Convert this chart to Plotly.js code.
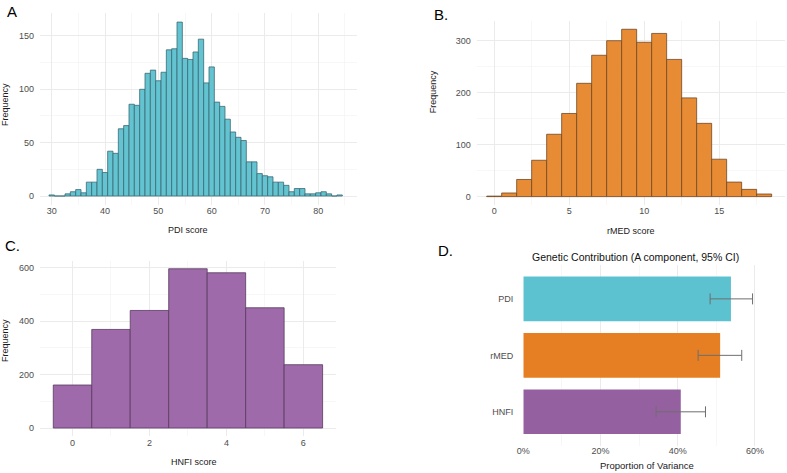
<!DOCTYPE html>
<html>
<head>
<meta charset="utf-8">
<script src="https://cdn.plot.ly/plotly-3.0.1.min.js"></script>
<style>
  html, body { margin: 0; padding: 0; background: #ffffff; }
  #chart { width: 787px; height: 473px; }
</style>
</head>
<body>
<div id="chart"></div>
<script>
// Panel A: PDI score distribution (bin centres and counts)
const pdiScore = [30, 31, 32, 33, 34, 35, 36, 37, 38, 39, 40, 41, 42, 43, 44, 45, 46, 47, 48, 49,
                  50, 51, 52, 53, 54, 55, 56, 57, 58, 59, 60, 61, 62, 63, 64, 65, 66, 67, 68, 69,
                  70, 71, 72, 73, 74, 75, 76, 77, 78, 79, 80, 81, 82, 83, 84];
const pdiCount = [1, 0, 0, 2, 4, 6, 3, 13, 13, 25, 22, 42, 40, 63, 66, 86, 85, 100, 115, 118,
                  108, 116, 137, 138, 163, 129, 128, 135, 147, 106, 121, 88, 84, 72, 60, 55, 52, 32, 32, 21,
                  19, 18, 13, 13, 10, 4, 7, 7, 2, 2, 3, 4, 2, 0, 1];

// Panel B: rMED score distribution
const rmedScore = [0, 1, 2, 3, 4, 5, 6, 7, 8, 9, 10, 11, 12, 13, 14, 15, 16, 17, 18];
const rmedCount = [1, 7, 33, 70, 120, 160, 218, 272, 300, 322, 297, 314, 264, 190, 141, 72, 28, 14, 5];

// Panel C: HNFI score distribution
const hnfiScore = [0, 1, 2, 3, 4, 5, 6];
const hnfiCount = [161, 369, 440, 596, 581, 450, 237];

// Panel D: additive genetic component (A) with 95% CI, in percent
const measures  = ['PDI', 'rMED', 'HNFI'];
const aEstimate = [53.8, 51.0, 40.8];
const aLower    = [48.4, 45.3, 34.4];
const aUpper    = [59.4, 56.6, 47.2];
const measureColors = ['#5cc2d0', '#e67e24', '#9560a0'];

const W = 787, H = 473;
const FONT = '"Liberation Sans Narrow", "Liberation Sans", Arial, sans-serif';
const fx = px => px / W;
const fy = px => 1 - px / H;

const GRID = '#ebebeb';
const MINOR = { showgrid: true, gridcolor: '#f1f1f1', gridwidth: 0.6, ticks: '' };

function axis(extra) {
  return Object.assign({
    showgrid: true, gridcolor: GRID, gridwidth: 1,
    zeroline: false, showline: false, ticks: '',
    tickfont: { family: FONT, size: 9, color: '#4d4d4d' },
    fixedrange: true
  }, extra);
}

const traces = [
  {
    type: 'bar', x: pdiScore, y: pdiCount, width: 1,
    marker: { color: '#63c3d1', line: { color: '#3b6a73', width: 0.8 } },
    xaxis: 'x', yaxis: 'y', hoverinfo: 'skip'
  },
  {
    type: 'bar', x: rmedScore, y: rmedCount, width: 1,
    marker: { color: '#e88b35', line: { color: '#6e4726', width: 0.8 } },
    xaxis: 'x2', yaxis: 'y2', hoverinfo: 'skip'
  },
  {
    type: 'bar', x: hnfiScore, y: hnfiCount, width: 1,
    marker: { color: '#9e6aa9', line: { color: '#573a5e', width: 0.8 } },
    xaxis: 'x3', yaxis: 'y3', hoverinfo: 'skip'
  },
  {
    type: 'bar', orientation: 'h', y: measures, x: aEstimate, width: 0.79,
    marker: { color: measureColors },
    error_x: {
      type: 'data', symmetric: false,
      array: aUpper.map((u, i) => u - aEstimate[i]),
      arrayminus: aLower.map((l, i) => aEstimate[i] - l),
      color: '#6e6e6e', thickness: 1, width: 5.5
    },
    xaxis: 'x4', yaxis: 'y4', hoverinfo: 'skip'
  }
];

const titleFont = { family: FONT, size: 9, color: '#1a1a1a' };
const labelFont = { family: FONT, size: 15, color: '#000000' };

function note(text, x, y, font, extra) {
  return Object.assign({
    text: text, xref: 'paper', yref: 'paper', x: fx(x), y: fy(y),
    xanchor: 'center', yanchor: 'middle', showarrow: false, font: font
  }, extra || {});
}

const layout = {
  width: W, height: H,
  margin: { l: 0, r: 0, t: 0, b: 0 },
  paper_bgcolor: '#ffffff', plot_bgcolor: '#ffffff',
  showlegend: false,

  xaxis: axis({ domain: [fx(40), fx(357.3)], range: [27.81, 87.31], tick0: 0, dtick: 10,
                minor: Object.assign({ dtick: 5 }, MINOR), anchor: 'y', ticklabelstandoff: -1 }),
  yaxis: axis({ domain: [fy(204.7), fy(13.4)], range: [-8.15, 171.15], tick0: 0, dtick: 50,
                minor: Object.assign({ dtick: 25 }, MINOR), anchor: 'x', ticklabelstandoff: 5 }),

  xaxis2: axis({ domain: [fx(476.7), fx(785)], range: [-1.165, 19.39], tick0: 0, dtick: 5,
                 minor: Object.assign({ dtick: 2.5 }, MINOR), anchor: 'y2', ticklabelstandoff: -1 }),
  yaxis2: axis({ domain: [fy(205), fy(20.9)], range: [-16.1, 338.1], tick0: 0, dtick: 100,
                 minor: Object.assign({ dtick: 50 }, MINOR), anchor: 'x2', ticklabelstandoff: 5 }),

  xaxis3: axis({ domain: [fx(40), fx(336)], range: [-0.845, 6.848], tick0: 0, dtick: 2,
                 minor: Object.assign({ dtick: 1 }, MINOR), anchor: 'y3', ticklabelstandoff: 0 }),
  yaxis3: axis({ domain: [fy(436), fy(260.8)], range: [-29.8, 625.8], tick0: 0, dtick: 200,
                 minor: Object.assign({ dtick: 100 }, MINOR), anchor: 'x3', ticklabelstandoff: 5 }),

  xaxis4: axis({ domain: [fx(523.3), fx(768)], range: [0, 63.4], tick0: 0, dtick: 20, ticksuffix: '%',
                 minor: Object.assign({ dtick: 10 }, MINOR), anchor: 'y4', ticklabelstandoff: -2 }),
  yaxis4: axis({ domain: [fy(445.7), fy(265)], type: 'category',
                 categoryorder: 'array', categoryarray: ['HNFI', 'rMED', 'PDI'],
                 range: [-0.6, 2.6], showgrid: false, anchor: 'x4', ticklabelstandoff: 9 }),

  annotations: [
    note('A', 5, 11, labelFont, { xanchor: 'left' }),
    note('B.', 432, 14, labelFont, { xanchor: 'left' }),
    note('C.', 3, 245, labelFont, { xanchor: 'left' }),
    note('D.', 436, 250, labelFont, { xanchor: 'left' }),

    note('PDI score', 188.3, 230, titleFont),
    note('Frequency', 5, 105, titleFont, { textangle: -90 }),
    note('rMED score', 631, 231, titleFont),
    note('Frequency', 433.3, 92, titleFont, { textangle: -90 }),
    note('HNFI score', 193.7, 462.3, titleFont),
    note('Frequency', 5, 341, titleFont, { textangle: -90 }),

    note('Genetic Contribution (A component, 95% CI)', 635, 256.5,
         { family: FONT, size: 10.5, color: '#111111' }),
    note('Proportion of Variance', 646.7, 465.5, { family: FONT, size: 9.5, color: '#1a1a1a' })
  ]
};

Plotly.newPlot('chart', traces, layout, { staticPlot: true, displayModeBar: false });
</script>
</body>
</html>
